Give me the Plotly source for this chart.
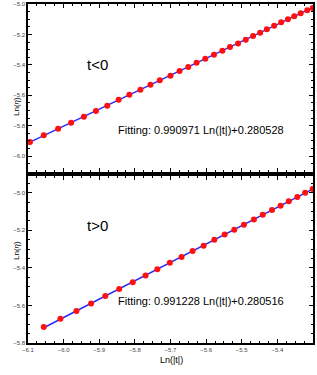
import numpy as np
import plotly.graph_objects as go

# t<0 panel data: x = Ln(|t|), y = Ln(eta)
x_neg = [-6.0944, -6.0558, -6.0155, -5.9789, -5.9431, -5.9093, -5.8775, -5.8456,
         -5.8155, -5.7845, -5.7563, -5.7301, -5.7000, -5.6746, -5.6501, -5.6268,
         -5.6023, -5.5780, -5.5544, -5.5330, -5.5104, -5.4887, -5.4682, -5.4485,
         -5.4296, -5.4090, -5.3893, -5.3704, -5.3527, -5.3346, -5.3161, -5.3008]
y_neg = [-5.908, -5.864, -5.820, -5.781, -5.741, -5.704, -5.669, -5.630,
         -5.597, -5.564, -5.531, -5.502, -5.472, -5.441, -5.414, -5.386,
         -5.360, -5.334, -5.307, -5.283, -5.259, -5.235, -5.211, -5.189,
         -5.166, -5.143, -5.120, -5.101, -5.081, -5.061, -5.041, -5.026]

# t>0 panel data
x_pos = [-6.0558, -6.009, -5.964, -5.923, -5.883, -5.844, -5.806, -5.770, -5.737,
         -5.702, -5.669, -5.638, -5.607, -5.577, -5.548, -5.521, -5.494, -5.466,
         -5.441, -5.415, -5.391, -5.368, -5.344, -5.322, -5.301]
y_pos = [-5.715, -5.671, -5.630, -5.590, -5.550, -5.512, -5.476, -5.441, -5.407,
         -5.373, -5.342, -5.310, -5.282, -5.251, -5.223, -5.197, -5.170, -5.143,
         -5.117, -5.092, -5.069, -5.046, -5.023, -5.000, -4.980]

label_neg = "t<0"
label_pos = "t>0"
fit_neg = "Fitting: 0.990971 Ln(|t|)+0.280528"
fit_pos = "Fitting: 0.991228 Ln(|t|)+0.280516"

BLUE = "#2a2aff"
RED = "#ff1010"
FONT = "Liberation Sans, Arial, sans-serif"

fig = go.Figure()

def add_panel(xs, ys, xa, ya):
    xs = np.array(xs); ys = np.array(ys)
    a, b = np.polyfit(xs, ys, 1)
    xl = np.array([xs[0], xs[-1]])
    fig.add_trace(go.Scatter(x=xl, y=a * xl + b, mode="lines",
                             line=dict(color=BLUE, width=1.5),
                             xaxis=xa, yaxis=ya, showlegend=False, hoverinfo="skip"))
    fig.add_trace(go.Scatter(x=xs, y=ys, mode="markers",
                             marker=dict(color=RED, size=6),
                             xaxis=xa, yaxis=ya, showlegend=False))

add_panel(x_neg, y_neg, "x", "y")
add_panel(x_pos, y_pos, "x2", "y2")

top_lo = (343 - 172) / 339
bot_hi = (343 - 176) / 339

common_ax = dict(showline=True, linecolor="black", linewidth=1.5, mirror="ticks",
                 ticks="inside", ticklen=4, tickwidth=1, tickcolor="black",
                 showgrid=False, zeroline=False, automargin=False,
                 tickfont=dict(family=FONT, size=6, color="#444"))
x_minor = dict(ticks="inside", ticklen=2, dtick=0.025, tickcolor="black", showgrid=False)
y_minor = dict(ticks="inside", ticklen=2, dtick=0.05, tickcolor="black", showgrid=False)

fig.update_layout(
    width=317, height=375,
    margin=dict(l=28, r=4, t=4, b=32),
    paper_bgcolor="white", plot_bgcolor="white",
    xaxis=dict(**common_ax, range=[-6.1, -5.3], domain=[0, 1], anchor="y",
               tickmode="linear", tick0=-6.1, dtick=0.1, showticklabels=False,
               minor=x_minor),
    yaxis=dict(**common_ax, range=[-6.105, -5.0], domain=[top_lo, 1], anchor="x",
               tickmode="linear", tick0=-6.0, dtick=0.2, tickformat=".1f",
               minor=y_minor),
    xaxis2=dict(**common_ax, range=[-6.1, -5.3], domain=[0, 1], anchor="y2",
                tickmode="linear", tick0=-6.1, dtick=0.1, tickformat=".1f",
                minor=x_minor),
    yaxis2=dict(**common_ax, range=[-5.8, -4.911], domain=[0, bot_hi], anchor="x2",
                tickmode="linear", tick0=-5.8, dtick=0.2, tickformat=".1f",
                minor=y_minor),
)

ann_common = dict(xref="paper", yref="paper", showarrow=False)
fig.add_annotation(**ann_common, x=(84.5 - 28) / 285, y=(343 - 54) / 339, text=label_neg,
                   font=dict(family=FONT, size=15, color="black"))
fig.add_annotation(**ann_common, x=(84.5 - 28) / 285, y=(343 - 225) / 339, text=label_pos,
                   font=dict(family=FONT, size=15, color="black"))
fig.add_annotation(**ann_common, x=(116 - 28) / 285, y=(343 - 130) / 339, text=fit_neg,
                   xanchor="left", font=dict(family=FONT, size=11, color="black"))
fig.add_annotation(**ann_common, x=(116 - 28) / 285, y=(343 - 309) / 339, text=fit_pos,
                   xanchor="left", font=dict(family=FONT, size=11, color="black"))
fig.add_annotation(**ann_common, x=(10 - 28) / 285, y=(343 - 95) / 339, text="Ln(<i>η</i>)",
                   textangle=-90, font=dict(family=FONT, size=8, color="black"))
fig.add_annotation(**ann_common, x=(10 - 28) / 285, y=(343 - 262) / 339, text="Ln(<i>η</i>)",
                   textangle=-90, font=dict(family=FONT, size=8, color="black"))
fig.add_annotation(**ann_common, x=(171 - 28) / 285, y=(343 - 367) / 339, text="Ln(|t|)",
                   font=dict(family=FONT, size=9, color="black"))

fig.write_html("out.html", config={"displayModeBar": False},
               post_script="document.body.style.margin='0';document.body.style.overflow='hidden';")
